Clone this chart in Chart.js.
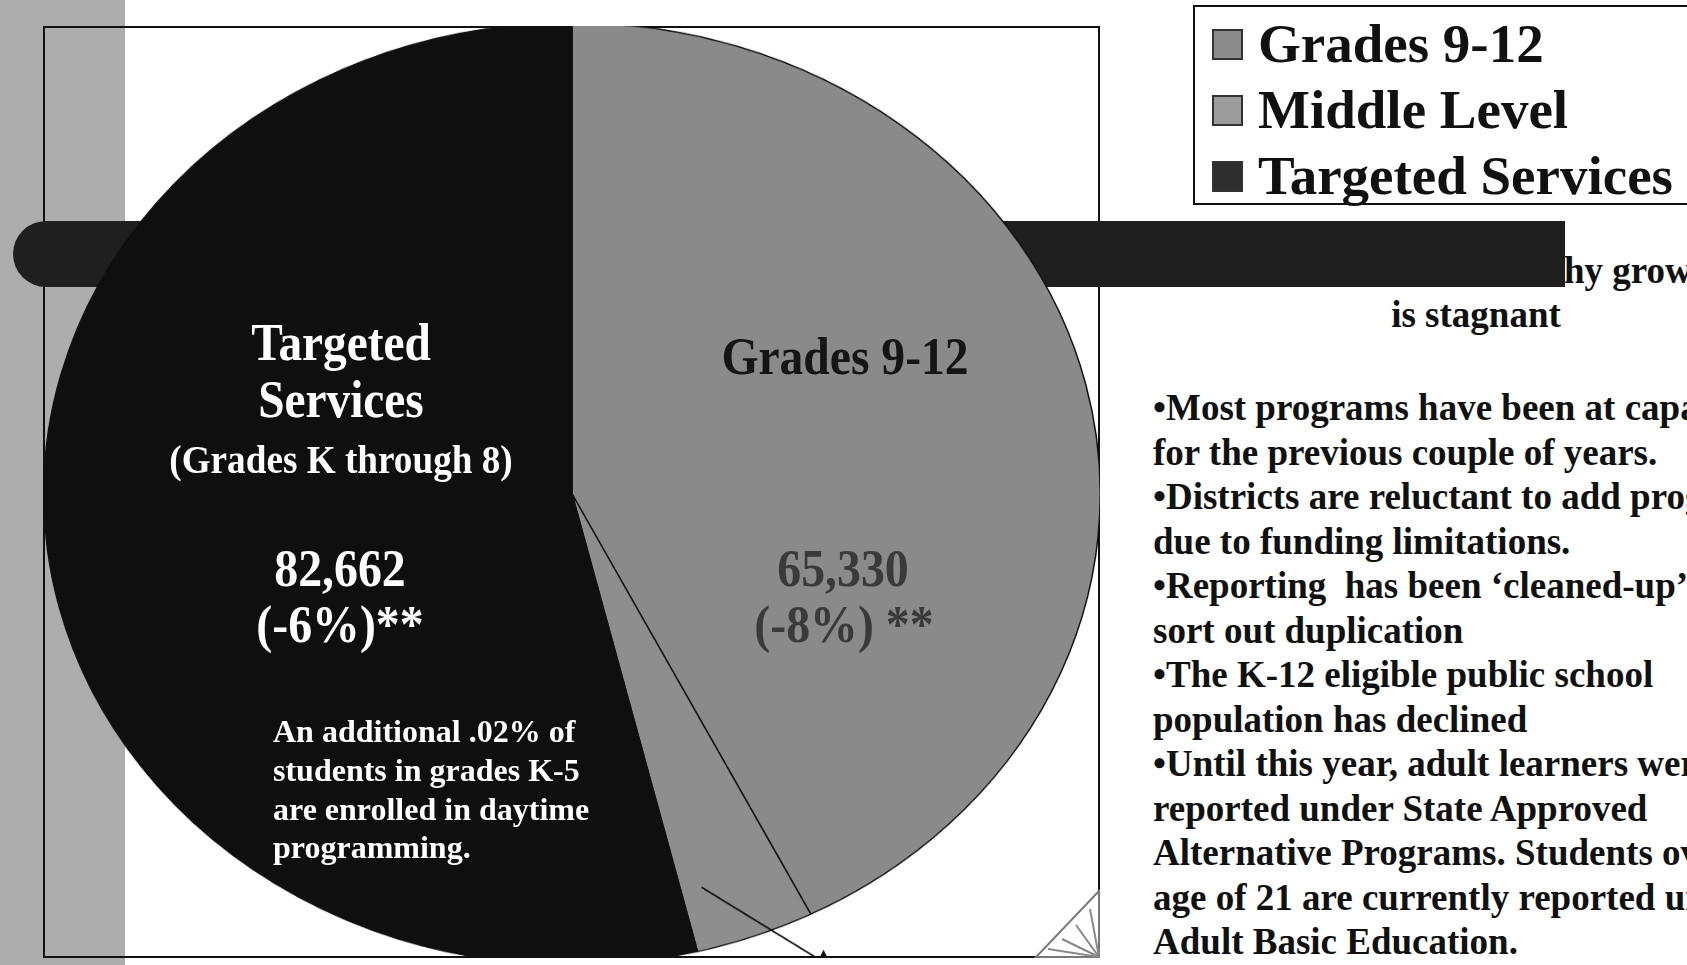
<!DOCTYPE html>
<html>
<head>
<meta charset="utf-8">
<script src="https://cdn.jsdelivr.net/npm/chart.js@4.4.1/dist/chart.umd.min.js"></script>
<style>
  body { margin:0; width:1687px; height:965px; overflow:hidden; background:#fff; position:relative;
         font-family:"Liberation Serif","Times New Roman",serif; font-weight:bold; }
  .abs { position:absolute; white-space:pre; }
  #stripe { left:0; top:0; width:125px; height:965px; background:#adadad; z-index:0; }
  #frame { left:43px; top:26px; width:1057px; height:932px; box-sizing:border-box; border:2px solid #111; z-index:1; }
  #bar { left:13px; top:221px; width:1552px; height:66px; background:#1f1f1f; border-radius:33px 0 0 33px; z-index:2; }
  #clip { left:43px; top:26px; width:1057px; height:932px; overflow:hidden; z-index:3; }
  #pieBox { position:absolute; left:0; top:-4px; transform:scaleY(0.892); transform-origin:0 0; }
  #legend { left:1193px; top:5px; width:600px; height:200px; box-sizing:border-box; border:2px solid #111; border-right:none; background:#fff; z-index:5; }
  #corner { left:1034px; top:889px; z-index:4; }
</style>
</head>
<body>
<div id="stripe" class="abs"></div>
<div id="frame" class="abs"></div>
<div id="bar" class="abs"></div>
<div id="clip" class="abs"><div id="pieBox"><canvas id="pie" width="1058" height="1058"></canvas></div></div>
<div id="legend" class="abs"></div>
<svg id="corner" class="abs" width="66" height="69">
  <polygon points="65,2 65,68 2,68" fill="none" stroke="#777" stroke-width="2"/>
  <line x1="65" y1="68" x2="14" y2="60" stroke="#888" stroke-width="2"/>
  <line x1="65" y1="68" x2="28" y2="50" stroke="#888" stroke-width="2"/>
  <line x1="65" y1="68" x2="42" y2="36" stroke="#888" stroke-width="2"/>
  <line x1="65" y1="68" x2="56" y2="20" stroke="#888" stroke-width="2"/>
</svg>
<script>
const categories = ["Grades 9-12", "Middle Level", "Targeted Services"];
const enrollment = [65330, 5600, 82662];
const changeLabels = ["(-8%) **", null, "(-6%)**"];
const sliceColors = ["#8a8a8a", "#8e8e8e", "#0f0f0f"];

const notes = [
  "\u2022Most programs have been at capacity",
  "for the previous couple of years.",
  "\u2022Districts are reluctant to add programs",
  "due to funding limitations.",
  "\u2022Reporting  has been \u2018cleaned-up\u2019 to",
  "sort out duplication",
  "\u2022The K-12 eligible public school",
  "population has declined",
  "\u2022Until this year, adult learners were",
  "reported under State Approved",
  "Alternative Programs. Students over the",
  "age of 21 are currently reported under",
  "Adult Basic Education."
];
const extraNote = ["An additional .02% of", "students in grades K-5", "are enrolled in daytime", "programming."];

// text placed by baseline
function place(text, x, base, size, opts) {
  opts = opts || {};
  const d = document.createElement("div");
  d.className = "abs";
  d.textContent = text;
  d.style.fontSize = size + "px";
  d.style.lineHeight = size + "px";
  d.style.top = (base - 0.8375 * size) + "px";
  d.style.left = x + "px";
  d.style.color = opts.color || "#000";
  d.style.zIndex = opts.z == null ? 4 : opts.z;
  const sx = opts.sx || 1;
  if (opts.center) {
    d.style.transform = "translateX(-50%) scaleX(" + sx + ")";
  } else {
    d.style.transformOrigin = "0 0";
    d.style.transform = "scaleX(" + sx + ")";
  }
  document.body.appendChild(d);
  return d;
}

const callout = {
  id: "callout",
  afterDatasetsDraw(chart) {
    const arc = chart.getDatasetMeta(0).data[1];
    const a = arc.startAngle + 0.8 * (arc.endAngle - arc.startAngle);
    const r = arc.outerRadius * 0.87;
    const x0 = arc.x + Math.cos(a) * r, y0 = arc.y + Math.sin(a) * r;
    const x1 = x0 + 122, y1 = y0 + 84;
    const c = chart.ctx;
    c.save();
    c.strokeStyle = "#111";
    c.lineWidth = 1.8;
    c.beginPath();
    c.moveTo(x0, y0);
    c.lineTo(x1, y1);
    c.stroke();
    c.fillStyle = "#111";
    c.beginPath();
    c.moveTo(x1, y1 - 14);
    c.lineTo(x1 - 8, y1 + 4);
    c.lineTo(x1 + 8, y1 + 4);
    c.closePath();
    c.fill();
    c.restore();
  }
};

const chart = new Chart(document.getElementById("pie"), {
  type: "pie",
  data: {
    labels: categories,
    datasets: [{
      data: enrollment,
      backgroundColor: sliceColors,
      borderColor: "#111",
      borderWidth: 1.5
    }]
  },
  options: {
    responsive: false,
    devicePixelRatio: 1,
    animation: false,
    layout: { padding: 0 },
    plugins: { legend: { display: false }, tooltip: { enabled: false } }
  },
  plugins: [callout]
});

// legend box
const legendBox = document.getElementById("legend");
const items = chart.options.plugins.legend.labels.generateLabels(chart);
items.forEach((it, i) => {
  const base = 62 + i * 66;
  const sq = document.createElement("div");
  sq.className = "abs";
  sq.style.left = (1212 - 1193 - 2) + "px";
  sq.style.top = (base - 33 - 5 - 2) + "px";
  sq.style.width = "31px";
  sq.style.height = "31px";
  sq.style.boxSizing = "border-box";
  sq.style.background = i === 2 ? "#2e2e2e" : (i === 1 ? "#9c9c9c" : "#8c8c8c");
  sq.style.border = "2px solid #333";
  legendBox.appendChild(sq);
  place(it.text, 1258, base, 55, { z: 6, color: "#111" });
});

// slice labels
const fmt = v => v.toLocaleString("en-US");
place("Targeted", 341, 361, 52, { center: true, color: "#fff", sx: 0.91 });
place("Services", 341, 418, 52, { center: true, color: "#fff", sx: 0.91 });
place("(Grades K through 8)", 341, 473, 40, { center: true, color: "#fff", sx: 0.93 });
place(fmt(enrollment[2]), 340, 587, 52, { center: true, color: "#fff", sx: 0.92 });
place(changeLabels[2], 340, 643, 52, { center: true, color: "#fff", sx: 0.92 });
extraNote.forEach((t, i) => place(t, 273, 742 + i * 38.7, 32, { color: "#fff" }));

place(categories[0], 845, 375, 52, { center: true, color: "#151515", sx: 0.915 });
place(fmt(enrollment[0]), 843, 587, 52, { center: true, color: "#3a3a3a", sx: 0.92 });
place(changeLabels[0], 844, 643, 52, { center: true, color: "#3a3a3a", sx: 0.92 });

// right text
place("Why growth", 1527, 283, 37, { z: 1, color: "#111" });
place("is stagnant", 1476, 327, 37, { center: true, z: 5, color: "#111" });
notes.forEach((t, i) => place(t, 1153, 420 + i * 44.5, 37, { z: 5, color: "#111" }));
</script>
</body>
</html>
